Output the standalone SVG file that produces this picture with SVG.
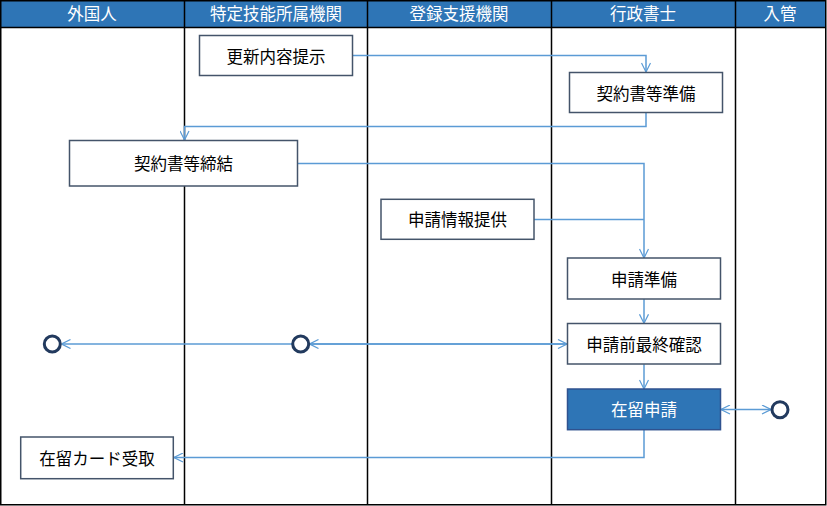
<svg xmlns="http://www.w3.org/2000/svg" width="827" height="506" viewBox="0 0 827 506">
<defs>
<style>
.hdr{fill:#2E75B6;}
.htxt{font-family:"Noto Sans CJK JP","Noto Sans CJK SC",sans-serif;font-size:16.5px;fill:#FFFFFF;text-anchor:middle;}
.lane{stroke:#000000;stroke-width:1.5;fill:none;}
.box{fill:#FFFFFF;stroke:#44546A;stroke-width:1.5;}
.boxa{fill:#2E75B6;stroke:#2F528F;stroke-width:1.5;}
.t{font-family:"Noto Sans CJK JP","Noto Sans CJK SC",sans-serif;font-size:16.5px;fill:#000000;text-anchor:middle;dominant-baseline:central;}
.tw{font-family:"Noto Sans CJK JP","Noto Sans CJK SC",sans-serif;font-size:16.5px;fill:#FFFFFF;text-anchor:middle;dominant-baseline:central;}
.c{fill:none;stroke:#5B9BD5;stroke-width:1.5;}
.end{fill:#FFFFFF;stroke:#223A5E;stroke-width:3;}
</style>
<marker id="ah" viewBox="0 0 10 10" refX="10" refY="5" markerWidth="10" markerHeight="10" markerUnits="userSpaceOnUse" orient="auto-start-reverse">
<path d="M1,0.5 L10,5 L1,9.5" fill="none" stroke="#5B9BD5" stroke-width="1.2"/>
</marker>
</defs>
<rect x="0" y="0" width="827" height="506" fill="#FFFFFF"/>
<g id="header">
<rect class="hdr" x="0.75" y="0.75" width="825" height="26.5"/>
<text class="htxt" x="92" y="19.5">外国人</text>
<text class="htxt" x="276" y="19.5">特定技能所属機関</text>
<text class="htxt" x="459" y="19.5">登録支援機関</text>
<text class="htxt" x="643" y="19.5">行政書士</text>
<text class="htxt" x="780" y="19.5">入管</text>
</g>
<g id="lanes">
<rect class="lane" x="0.75" y="0.75" width="825" height="504"/>
<line class="lane" x1="0.75" y1="27.5" x2="825.75" y2="27.5"/>
<line class="lane" x1="184.5" y1="0.75" x2="184.5" y2="504.75"/>
<line class="lane" x1="367.5" y1="0.75" x2="367.5" y2="504.75"/>
<line class="lane" x1="551.5" y1="0.75" x2="551.5" y2="504.75"/>
<line class="lane" x1="735.5" y1="0.75" x2="735.5" y2="504.75"/>
</g>
<g id="connectors">
<path class="c" d="M352.5,55.5 H646 V72" marker-end="url(#ah)"/>
<path class="c" d="M646,112.5 V126.5 H184.5 V140" marker-end="url(#ah)"/>
<path class="c" d="M298,163.5 H644 V258" marker-end="url(#ah)"/>
<path class="c" d="M534,219.5 H644"/>
<path class="c" d="M644,299 V323.3" marker-end="url(#ah)"/>
<path class="c" d="M567.5,344 H61.5" marker-end="url(#ah)"/>
<path class="c" d="M309.5,344 H567" marker-start="url(#ah)" marker-end="url(#ah)"/>
<path class="c" d="M644,364.3 V389" marker-end="url(#ah)"/>
<path class="c" d="M721,409.5 H771" marker-start="url(#ah)" marker-end="url(#ah)"/>
<path class="c" d="M644,430 V457.5 H174" marker-end="url(#ah)"/>
</g>
<g id="n1"><rect class="box" x="199.5" y="35.5" width="153" height="40"/><text class="t" x="276" y="55.5">更新内容提示</text></g>
<g id="n2"><rect class="box" x="569.5" y="72.5" width="153" height="40"/><text class="t" x="646" y="92.5">契約書等準備</text></g>
<g id="n3"><rect class="box" x="69.5" y="140.5" width="228" height="45.5"/><text class="t" x="183.5" y="163.3">契約書等締結</text></g>
<g id="n4"><rect class="box" x="381" y="199.3" width="153" height="40"/><text class="t" x="457.5" y="219.3">申請情報提供</text></g>
<g id="n5"><rect class="box" x="567.5" y="258" width="153" height="41"/><text class="t" x="644" y="278.5">申請準備</text></g>
<g id="n6"><rect class="box" x="567.5" y="323.5" width="153" height="40.5"/><text class="t" x="644" y="343.8">申請前最終確認</text></g>
<g id="n7"><rect class="boxa" x="567.5" y="389" width="153" height="40.7"/><text class="tw" x="644" y="409.3">在留申請</text></g>
<g id="n8"><rect class="box" x="20.7" y="437" width="152.6" height="41.7"/><text class="t" x="97" y="457.8">在留カード受取</text></g>
<g id="e1"><circle class="end" cx="52.3" cy="344" r="8"/></g>
<g id="e2"><circle class="end" cx="300.7" cy="344" r="8"/></g>
<g id="e3"><circle class="end" cx="780" cy="409.7" r="8"/></g>
</svg>
